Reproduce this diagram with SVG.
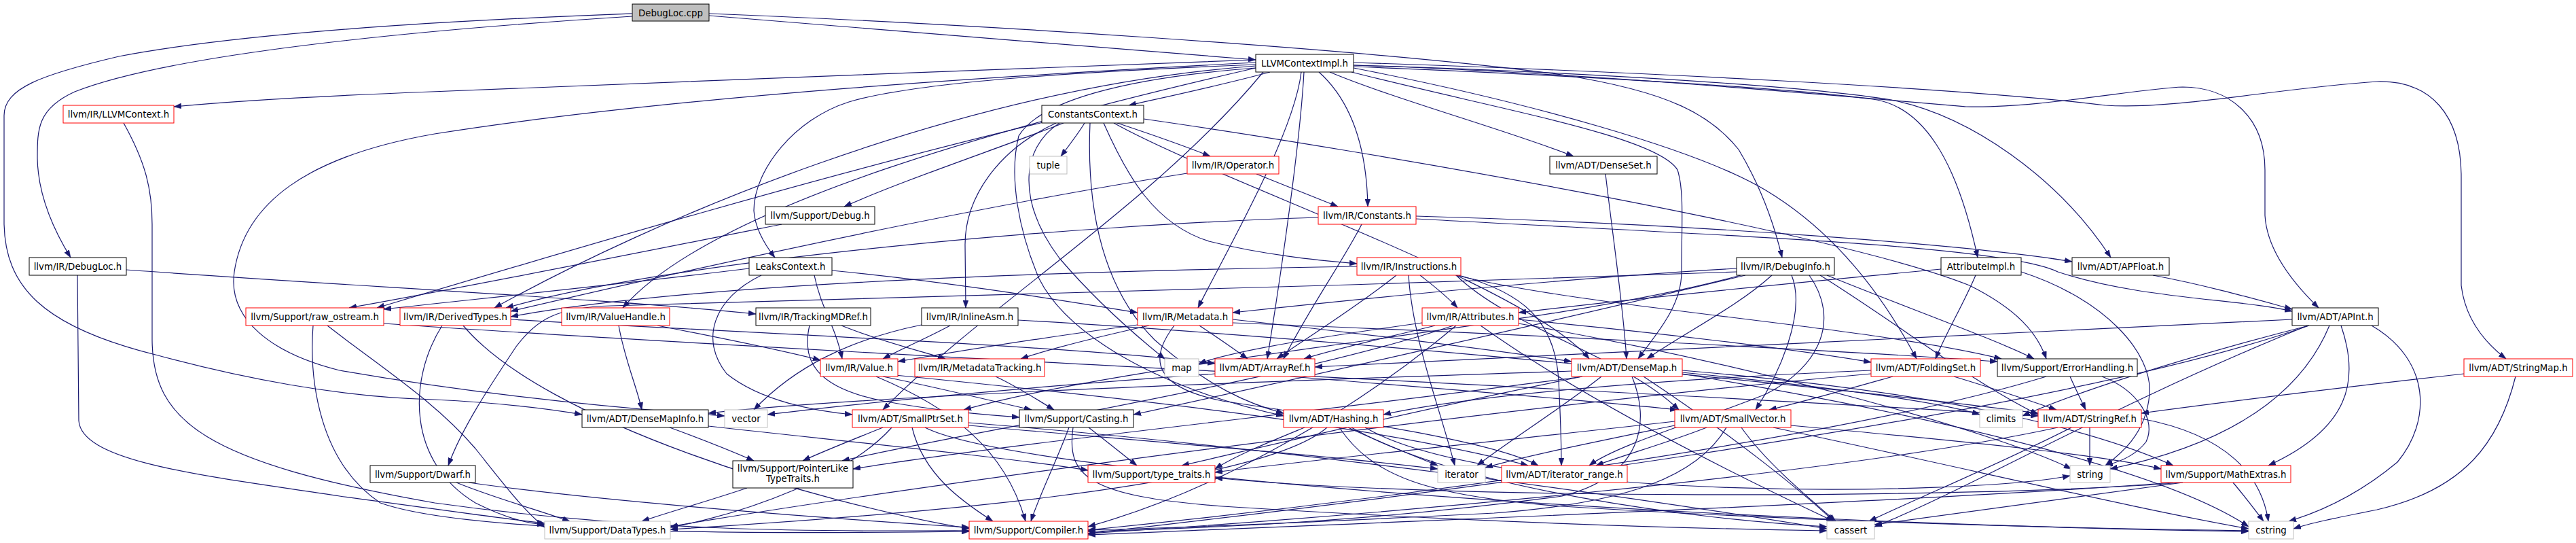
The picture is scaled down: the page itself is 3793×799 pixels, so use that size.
<svg xmlns="http://www.w3.org/2000/svg" width="3793" height="799" viewBox="0 0 3793 799">
<style>
.nd rect{fill:#fff;stroke:#000;stroke-width:1}
.nd.r rect{stroke:#ff0000}
.nd.g rect{stroke:#bfbfbf}
.nd.root rect{fill:#bfbfbf;stroke:#000}
.nd text{font-family:"DejaVu Sans","Liberation Sans",sans-serif;font-size:13.33px;text-anchor:middle;fill:#000}
#edges path{fill:none;stroke:#191970;stroke-width:1.2;marker-end:url(#ah)}
</style>
<defs>
<marker id="ah" viewBox="0 0 11 8" refX="11" refY="4" markerWidth="11" markerHeight="8" markerUnits="userSpaceOnUse" orient="auto">
<path d="M0,0 L11,4 L0,8 z" fill="#191970" stroke="#191970" stroke-width="0.5"/>
</marker>
</defs>
<rect x="0" y="0" width="3793" height="799" fill="#fff"/>
<g id="edges">
<path d="M1044,23 C1300,44 1600,68 1849,88"/>
<path d="M931,24 C600,45 250,80 110,135 C55,160 55,190 55,233 C56,290 80,340 104,379"/>
<path d="M931,20 C800,25 400,40 175,83 C60,110 6,130 6,170 L6,330 C8,420 60,480 229,522 C350,555 500,585 640,588 C720,592 800,600 857,610"/>
<path d="M1044,20 C1400,34 2000,70 2300,110 C2460,135 2520,170 2560,220 C2590,270 2610,320 2624,379"/>
<path d="M1849,88 C1500,100 900,125 635,135 C450,142 330,150 256,157"/>
<path d="M1870,106 C1800,125 1720,142 1662,155"/>
<path d="M1958,106 C2050,145 2230,195 2317,230"/>
<path d="M1942,106 C1980,140 2012,200 2014,304"/>
<path d="M1849,95 C1600,105 1350,120 1250,150 C1170,175 1110,250 1110,310 C1112,340 1130,365 1141,379"/>
<path d="M1993,92 C2400,105 2900,130 3100,155 C3200,162 3350,130 3500,120 C3580,118 3624,170 3624,260 L3624,420 C3630,470 3660,505 3690,528"/>
<path d="M1993,96 C2300,105 2700,140 2895,157 C3000,160 3150,130 3214,128 C3280,128 3335,170 3335,250 L3335,317 C3338,370 3380,420 3414,453"/>
<path d="M1993,98 C2300,110 2650,130 2764,147 C2830,160 2880,230 2912,379"/>
<path d="M1993,96 C2300,105 2650,125 2785,147 C2900,170 3030,260 3108,379"/>
<path d="M1993,100 C2250,150 2500,220 2600,280 C2700,340 2770,430 2822,528"/>
<path d="M1990,106 C2200,160 2440,200 2470,250 C2480,280 2476,330 2476,400 C2476,450 2440,490 2412,528"/>
<path d="M1920,106 C1915,200 1890,380 1866,528"/>
<path d="M1916,106 C1905,200 1800,380 1764,453"/>
<path d="M1849,97 C1400,130 950,330 728,453"/>
<path d="M1849,100 C1500,180 1050,300 917,453"/>
<path d="M1849,92 C1500,110 1000,140 640,197 C450,230 360,300 345,400 C335,470 400,520 500,545 C700,580 900,600 1067,612"/>
<path d="M1860,106 C1700,300 1450,450 1300,603"/>
<path d="M1849,100 C1650,115 1530,150 1500,200 C1485,260 1500,340 1530,410 C1570,490 1700,570 1890,612"/>
<path d="M1597,181 C1588,196 1575,213 1562,230"/>
<path d="M1645,181 C1690,196 1740,213 1782,230"/>
<path d="M1566,181 C1480,215 1330,265 1243,304"/>
<path d="M1536,180 C1200,260 800,380 555,453"/>
<path d="M1625,181 C1660,260 1700,330 1780,355 C1860,375 1940,383 1998,388"/>
<path d="M1555,181 C1470,220 1421,290 1421,360 L1422,453"/>
<path d="M1560,181 C1500,220 1500,300 1560,380 C1620,450 1680,500 1715,528"/>
<path d="M1640,181 C1800,270 2250,420 2340,528"/>
<path d="M1605,181 C1600,300 1620,420 1700,500 C1780,570 1840,595 1890,608"/>
<path d="M1684,175 C2000,220 2700,340 2900,420 C2970,455 3000,490 3013,528"/>
<path d="M1850,256 C1890,272 1935,290 1970,304"/>
<path d="M1748,255 C1400,310 1000,400 752,458"/>
<path d="M2364,256 C2375,350 2390,450 2395,528"/>
<path d="M1151,330 C950,370 700,420 514,453"/>
<path d="M1941,320 C1600,330 1000,380 745,453"/>
<path d="M2085,318 C2500,330 2900,360 3051,385"/>
<path d="M2085,322 C2500,345 2950,360 3030,400 C3150,440 3300,440 3375,458"/>
<path d="M2005,330 C1980,380 1930,450 1890,528"/>
<path d="M186,397 C500,420 900,440 1113,462"/>
<path d="M114,405 L116,619 C120,680 300,700 500,730 C650,750 730,762 802,770"/>
<path d="M182,181 C215,240 224,280 224,330 L224,500 C225,620 300,680 640,740 C1000,790 1300,780 1427,781"/>
<path d="M1103,395 C900,420 700,440 565,455"/>
<path d="M1199,405 C1209,454 1230,479 1240,528"/>
<path d="M1225,398 C1400,415 1550,440 1675,460"/>
<path d="M1121,405 C1050,440 1030,500 1070,550 C1120,590 1200,605 1255,610"/>
<path d="M1998,392 C1500,400 1000,420 752,466"/>
<path d="M2091,405 C2110,420 2130,435 2146,453"/>
<path d="M2056,405 C2000,450 1920,500 1880,528"/>
<path d="M2074,405 C2080,500 2120,600 2142,685"/>
<path d="M2148,405 C2240,430 2290,470 2295,560 C2298,620 2299,660 2299,685"/>
<path d="M2144,405 C2226,484 2390,524 2472,603"/>
<path d="M2144,405 C2345,454 2746,479 2947,528"/>
<path d="M2557,395 C2300,410 2000,440 1815,460"/>
<path d="M2557,400 C2000,420 1300,440 900,450 C820,452 790,470 760,510 C720,570 680,630 660,685"/>
<path d="M2609,405 C2560,450 2480,490 2425,528"/>
<path d="M2563,405 C2277,484 1705,524 1419,603"/>
<path d="M2638,405 C2660,460 2620,550 2585,603"/>
<path d="M2680,405 C2800,480 2900,560 3001,610"/>
<path d="M2664,405 C2710,470 2680,540 2600,580 C2500,620 2380,655 2340,685"/>
<path d="M2570,405 C2300,470 1900,560 1669,610"/>
<path d="M2690,405 C2800,450 2940,500 2995,528"/>
<path d="M2858,396 C2600,420 2400,440 2236,460"/>
<path d="M2909,405 C2890,450 2865,490 2850,528"/>
<path d="M2976,400 C3100,440 3170,520 3165,580 C3160,640 3120,670 3100,685"/>
<path d="M3170,405 C3250,420 3320,440 3375,455"/>
<path d="M565,476 C1200,520 2500,580 3001,612"/>
<path d="M461,479 C455,560 470,680 560,740 C700,790 1200,785 1427,782"/>
<path d="M482,479 C560,540 640,590 700,660 C740,710 770,750 802,776"/>
<path d="M752,470 C1100,490 1600,510 1789,535"/>
<path d="M682,479 C800,620 1200,740 1427,778"/>
<path d="M651,479 C600,560 600,680 700,740 C750,765 780,770 802,772"/>
<path d="M911,479 C920,530 938,570 945,603"/>
<path d="M968,479 C1050,495 1150,515 1208,530"/>
<path d="M1239,479 C1290,500 1350,515 1392,528"/>
<path d="M1192,479 C1180,530 1200,570 1300,590 C1380,605 1450,610 1501,614"/>
<path d="M1399,479 C1370,495 1330,512 1300,528"/>
<path d="M1499,471 C2000,500 2700,570 3001,608"/>
<path d="M1357,478 C1250,500 1170,540 1110,603"/>
<path d="M1675,478 C1550,495 1420,515 1322,532"/>
<path d="M1692,479 C1620,495 1550,512 1503,528"/>
<path d="M1766,479 C1790,495 1815,512 1837,528"/>
<path d="M1815,470 C2000,490 2200,515 2314,532"/>
<path d="M1729,479 C1690,530 1700,570 1800,590 C2000,620 2200,650 2265,685"/>
<path d="M1815,475 C2200,490 2700,515 2941,532"/>
<path d="M2113,479 C2050,495 1970,512 1920,528"/>
<path d="M2236,470 C2450,490 2650,515 2755,533"/>
<path d="M2144,479 C2000,600 1800,720 1602,775"/>
<path d="M2140,479 C1900,560 1400,640 1240,678"/>
<path d="M2094,475 C1950,495 1820,515 1765,535"/>
<path d="M2236,476 C2600,540 2950,640 3050,690"/>
<path d="M2180,479 C2350,600 2600,720 2700,767"/>
<path d="M3375,470 C3000,490 2300,520 1936,540"/>
<path d="M3400,479 C3000,620 2000,740 1602,785"/>
<path d="M3447,479 C3475,560 3460,630 3340,685"/>
<path d="M3398,479 C3100,600 2900,720 2760,775"/>
<path d="M3400,479 C3200,530 3050,580 2978,612"/>
<path d="M3492,479 C3580,530 3580,620 3530,680 C3470,730 3410,755 3370,767"/>
<path d="M3430,479 C3380,600 3250,660 3107,690"/>
<path d="M1318,552 C1600,580 2000,620 2250,685"/>
<path d="M1300,554 C1380,570 1460,590 1519,603"/>
<path d="M1290,554 C1400,600 1480,660 1510,767"/>
<path d="M1466,554 C1500,570 1530,590 1552,603"/>
<path d="M1900,554 C2100,570 2350,590 2470,603"/>
<path d="M1789,550 C1500,570 1250,595 1130,610"/>
<path d="M2314,546 C1900,560 1300,580 1043,608"/>
<path d="M2403,554 C2430,620 2420,700 2300,730 C2000,770 1750,778 1602,782"/>
<path d="M2477,545 C2900,580 3100,640 3200,685"/>
<path d="M2330,554 C2000,600 1500,650 1256,690"/>
<path d="M2330,554 C2100,600 1850,660 1740,685"/>
<path d="M2420,554 C2550,640 2650,720 2700,767"/>
<path d="M2477,548 C2700,570 2850,590 2915,610"/>
<path d="M2477,550 C2900,620 3200,700 3311,775"/>
<path d="M2358,554 C2300,600 2220,650 2175,685"/>
<path d="M2755,545 C2400,560 2150,585 2037,610"/>
<path d="M2787,554 C2730,570 2660,590 2605,603"/>
<path d="M2877,554 C2930,570 2990,590 3028,603"/>
<path d="M2755,550 C2200,600 1300,720 987,775"/>
<path d="M3048,554 C3055,570 3065,590 3071,603"/>
<path d="M3013,554 C2700,650 2000,740 1602,780"/>
<path d="M3095,554 C3150,575 3175,620 3160,650 C3145,670 3120,680 3100,685"/>
<path d="M3628,550 C3450,570 3250,595 3153,608"/>
<path d="M3704,554 C3680,650 3630,720 3500,750 C3440,762 3400,770 3377,778"/>
<path d="M986,629 C1030,645 1080,665 1110,678"/>
<path d="M1043,627 C1250,650 1500,675 1602,692"/>
<path d="M1343,629 C1360,700 1420,740 1462,767"/>
<path d="M1313,629 C1250,700 1100,755 987,776"/>
<path d="M1300,629 C1260,645 1210,665 1182,678"/>
<path d="M1426,622 C1900,660 2400,730 2690,778"/>
<path d="M1362,629 C1500,700 2500,770 3311,782"/>
<path d="M1426,626 C1700,650 1950,670 2117,690"/>
<path d="M1574,629 C1555,680 1530,730 1518,767"/>
<path d="M1603,629 C1630,650 1655,670 1674,685"/>
<path d="M1580,629 C1570,700 1600,730 1800,745 C2200,770 2500,778 2690,781"/>
<path d="M1954,629 C1850,720 1300,760 987,779"/>
<path d="M1921,629 C1870,650 1820,670 1789,690"/>
<path d="M1990,629 C2150,720 2500,765 2690,775"/>
<path d="M1972,629 C2020,700 2100,730 2300,745 C2700,770 3100,778 3311,781"/>
<path d="M1985,629 C2030,650 2080,670 2117,685"/>
<path d="M2010,629 C2200,740 2900,730 3048,700"/>
<path d="M2513,629 C2460,650 2390,670 2350,685"/>
<path d="M2466,626 C2350,650 2250,670 2187,688"/>
<path d="M2542,629 C2500,700 2400,740 2200,755 C1900,770 1700,778 1602,780"/>
<path d="M2637,626 C2900,650 3100,670 3182,690"/>
<path d="M2466,620 C2200,650 1900,680 1789,695"/>
<path d="M2564,629 C2600,680 2660,730 2703,767"/>
<path d="M2611,629 C2900,690 3150,750 3311,778"/>
<path d="M3030,629 C2700,700 2000,760 1602,785"/>
<path d="M3050,629 C2950,680 2830,730 2752,767"/>
<path d="M3153,616 C3280,640 3330,700 3340,767"/>
<path d="M3077,629 L3077,685"/>
<path d="M672,710 C720,730 790,750 839,767"/>
<path d="M690,710 C900,740 1250,765 1427,776"/>
<path d="M1100,718 C1050,735 990,752 945,767"/>
<path d="M3200,710 C2800,740 2000,770 1602,787"/>
<path d="M3214,710 C2900,735 2100,735 1789,703"/>
<path d="M3214,710 C3000,740 2850,760 2760,772"/>
<path d="M3288,710 C3305,730 3320,750 3333,767"/>
</g>
<g id="n1" class="nd root"><rect x="931" y="6" width="113" height="25"/><text x="987.5" y="23.5">DebugLoc.cpp</text></g>
<g id="n2" class="nd"><rect x="1849" y="80" width="144" height="26"/><text x="1921" y="98">LLVMContextImpl.h</text></g>
<g id="n3" class="nd r"><rect x="93" y="155" width="163" height="26"/><text x="174.5" y="173">llvm/IR/LLVMContext.h</text></g>
<g id="n4" class="nd"><rect x="1534" y="155" width="150" height="26"/><text x="1609" y="173">ConstantsContext.h</text></g>
<g id="n5" class="nd g"><rect x="1516" y="230" width="55" height="26"/><text x="1543.5" y="248">tuple</text></g>
<g id="n6" class="nd r"><rect x="1748" y="230" width="135" height="26"/><text x="1815.5" y="248">llvm/IR/Operator.h</text></g>
<g id="n7" class="nd"><rect x="2282" y="230" width="158" height="26"/><text x="2361" y="248">llvm/ADT/DenseSet.h</text></g>
<g id="n8" class="nd"><rect x="1127" y="304" width="161" height="26"/><text x="1207.5" y="322">llvm/Support/Debug.h</text></g>
<g id="n9" class="nd r"><rect x="1941" y="304" width="144" height="26"/><text x="2013" y="322">llvm/IR/Constants.h</text></g>
<g id="n10" class="nd"><rect x="43" y="379" width="143" height="26"/><text x="114.5" y="397">llvm/IR/DebugLoc.h</text></g>
<g id="n11" class="nd"><rect x="1103" y="379" width="122" height="26"/><text x="1164" y="397">LeaksContext.h</text></g>
<g id="n12" class="nd r"><rect x="1998" y="379" width="153" height="26"/><text x="2074.5" y="397">llvm/IR/Instructions.h</text></g>
<g id="n13" class="nd"><rect x="2557" y="379" width="144" height="26"/><text x="2629" y="397">llvm/IR/DebugInfo.h</text></g>
<g id="n14" class="nd"><rect x="2858" y="379" width="118" height="26"/><text x="2917" y="397">AttributeImpl.h</text></g>
<g id="n15" class="nd"><rect x="3051" y="379" width="143" height="26"/><text x="3122.5" y="397">llvm/ADT/APFloat.h</text></g>
<g id="n16" class="nd r"><rect x="362" y="453" width="203" height="26"/><text x="463.5" y="471">llvm/Support/raw_ostream.h</text></g>
<g id="n17" class="nd r"><rect x="589" y="453" width="163" height="26"/><text x="670.5" y="471">llvm/IR/DerivedTypes.h</text></g>
<g id="n18" class="nd r"><rect x="827" y="453" width="159" height="26"/><text x="906.5" y="471">llvm/IR/ValueHandle.h</text></g>
<g id="n19" class="nd"><rect x="1113" y="453" width="169" height="26"/><text x="1197.5" y="471">llvm/IR/TrackingMDRef.h</text></g>
<g id="n20" class="nd"><rect x="1357" y="453" width="142" height="26"/><text x="1428" y="471">llvm/IR/InlineAsm.h</text></g>
<g id="n21" class="nd r"><rect x="1675" y="453" width="140" height="26"/><text x="1745" y="471">llvm/IR/Metadata.h</text></g>
<g id="n22" class="nd r"><rect x="2094" y="453" width="142" height="26"/><text x="2165" y="471">llvm/IR/Attributes.h</text></g>
<g id="n23" class="nd"><rect x="3375" y="453" width="127" height="26"/><text x="3438.5" y="471">llvm/ADT/APInt.h</text></g>
<g id="n24" class="nd r"><rect x="1208" y="528" width="114" height="26"/><text x="1265" y="546">llvm/IR/Value.h</text></g>
<g id="n25" class="nd r"><rect x="1347" y="528" width="191" height="26"/><text x="1442.5" y="546">llvm/IR/MetadataTracking.h</text></g>
<g id="n26" class="nd g"><rect x="1715" y="528" width="50" height="26"/><text x="1740" y="546">map</text></g>
<g id="n27" class="nd r"><rect x="1789" y="528" width="147" height="26"/><text x="1862.5" y="546">llvm/ADT/ArrayRef.h</text></g>
<g id="n28" class="nd r"><rect x="2314" y="528" width="163" height="26"/><text x="2395.5" y="546">llvm/ADT/DenseMap.h</text></g>
<g id="n29" class="nd r"><rect x="2755" y="528" width="161" height="26"/><text x="2835.5" y="546">llvm/ADT/FoldingSet.h</text></g>
<g id="n30" class="nd"><rect x="2941" y="528" width="206" height="26"/><text x="3044" y="546">llvm/Support/ErrorHandling.h</text></g>
<g id="n31" class="nd r"><rect x="3628" y="528" width="160" height="26"/><text x="3708" y="546">llvm/ADT/StringMap.h</text></g>
<g id="n32" class="nd"><rect x="857" y="603" width="186" height="26"/><text x="950" y="621">llvm/ADT/DenseMapInfo.h</text></g>
<g id="n33" class="nd g"><rect x="1067" y="603" width="63" height="26"/><text x="1098.5" y="621">vector</text></g>
<g id="n34" class="nd r"><rect x="1255" y="603" width="171" height="26"/><text x="1340.5" y="621">llvm/ADT/SmallPtrSet.h</text></g>
<g id="n35" class="nd"><rect x="1501" y="603" width="168" height="26"/><text x="1585" y="621">llvm/Support/Casting.h</text></g>
<g id="n36" class="nd r"><rect x="1890" y="603" width="147" height="26"/><text x="1963.5" y="621">llvm/ADT/Hashing.h</text></g>
<g id="n37" class="nd r"><rect x="2466" y="603" width="171" height="26"/><text x="2551.5" y="621">llvm/ADT/SmallVector.h</text></g>
<g id="n38" class="nd g"><rect x="2915" y="603" width="63" height="26"/><text x="2946.5" y="621">climits</text></g>
<g id="n39" class="nd r"><rect x="3001" y="603" width="152" height="26"/><text x="3077" y="621">llvm/ADT/StringRef.h</text></g>
<g id="n40" class="nd"><rect x="545" y="685" width="155" height="25"/><text x="622.5" y="702.5">llvm/Support/Dwarf.h</text></g>
<g id="n41" class="nd"><rect x="1079" y="678" width="177" height="40"/><text x="1167.5" y="694">llvm/Support/PointerLike</text><text x="1167.5" y="709">TypeTraits.h</text></g>
<g id="n42" class="nd r"><rect x="1602" y="685" width="187" height="25"/><text x="1695.5" y="702.5">llvm/Support/type_traits.h</text></g>
<g id="n43" class="nd g"><rect x="2117" y="685" width="70" height="25"/><text x="2152" y="702.5">iterator</text></g>
<g id="n44" class="nd r"><rect x="2211" y="685" width="185" height="25"/><text x="2303.5" y="702.5">llvm/ADT/iterator_range.h</text></g>
<g id="n45" class="nd g"><rect x="3048" y="685" width="59" height="25"/><text x="3077.5" y="702.5">string</text></g>
<g id="n46" class="nd r"><rect x="3182" y="685" width="191" height="25"/><text x="3277.5" y="702.5">llvm/Support/MathExtras.h</text></g>
<g id="n47" class="nd g"><rect x="802" y="767" width="185" height="26"/><text x="894.5" y="785">llvm/Support/DataTypes.h</text></g>
<g id="n48" class="nd r"><rect x="1427" y="767" width="175" height="26"/><text x="1514.5" y="785">llvm/Support/Compiler.h</text></g>
<g id="n49" class="nd g"><rect x="2690" y="767" width="70" height="26"/><text x="2725" y="785">cassert</text></g>
<g id="n50" class="nd g"><rect x="3311" y="767" width="66" height="26"/><text x="3344" y="785">cstring</text></g>
</svg>
